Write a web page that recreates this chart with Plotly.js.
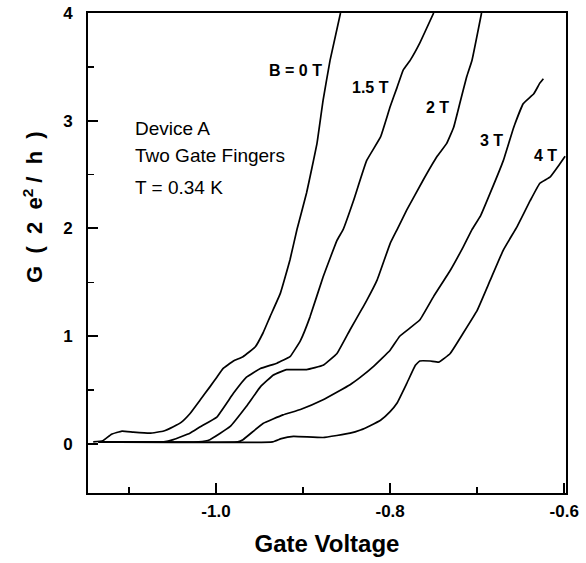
<!DOCTYPE html>
<html>
<head>
<meta charset="utf-8">
<script src="https://cdn.plot.ly/plotly-3.0.1.min.js"></script>
<style>html,body{margin:0;padding:0;background:#fff;}#chart{width:586px;height:563px;}</style>
</head>
<body>
<div id="chart"></div>
<script>
// Gate voltage (V) and conductance G (2e^2/h) for each magnetic field
const x_B0 = [-1.141, -1.13, -1.12, -1.108, -1.095, -1.076, -1.06, -1.049, -1.04, -1.030, -1.018, -1.007, -0.999, -0.992, -0.980, -0.969, -0.955, -0.946, -0.938, -0.926, -0.915, -0.907, -0.896, -0.884, -0.877, -0.869, -0.857];
const y_B0 = [0.02, 0.03, 0.09, 0.12, 0.11, 0.10, 0.12, 0.16, 0.20, 0.28, 0.41, 0.53, 0.62, 0.70, 0.77, 0.81, 0.90, 1.03, 1.18, 1.40, 1.71, 1.99, 2.33, 2.79, 3.19, 3.56, 4.0];

const x_B15 = [-1.135, -1.06, -1.049, -1.03, -1.018, -0.999, -0.980, -0.965, -0.949, -0.930, -0.915, -0.903, -0.892, -0.877, -0.861, -0.854, -0.842, -0.827, -0.811, -0.800, -0.792, -0.785, -0.777, -0.766, -0.750];
const y_B15 = [0.02, 0.02, 0.04, 0.10, 0.16, 0.25, 0.47, 0.62, 0.70, 0.75, 0.81, 0.96, 1.18, 1.55, 1.89, 1.99, 2.26, 2.63, 2.85, 3.13, 3.31, 3.47, 3.56, 3.72, 4.0];

const x_B2 = [-1.135, -1.02, -1.007, -0.984, -0.965, -0.949, -0.934, -0.919, -0.896, -0.877, -0.861, -0.846, -0.834, -0.827, -0.815, -0.800, -0.792, -0.781, -0.762, -0.746, -0.735, -0.727, -0.720, -0.712, -0.706, -0.695];
const y_B2 = [0.02, 0.02, 0.04, 0.16, 0.35, 0.53, 0.64, 0.69, 0.69, 0.73, 0.84, 1.06, 1.23, 1.33, 1.52, 1.86, 1.99, 2.17, 2.45, 2.67, 2.79, 2.94, 3.16, 3.41, 3.56, 4.0];

const x_B3 = [-1.135, -0.975, -0.969, -0.946, -0.923, -0.903, -0.877, -0.846, -0.834, -0.819, -0.800, -0.789, -0.766, -0.750, -0.731, -0.716, -0.706, -0.696, -0.685, -0.670, -0.658, -0.647, -0.635, -0.628, -0.624];
const y_B3 = [0.02, 0.02, 0.04, 0.19, 0.27, 0.32, 0.41, 0.55, 0.62, 0.72, 0.87, 1.0, 1.15, 1.37, 1.61, 1.83, 1.99, 2.12, 2.33, 2.63, 2.94, 3.16, 3.25, 3.35, 3.39];

const x_B4 = [-1.135, -0.935, -0.925, -0.911, -0.877, -0.846, -0.834, -0.823, -0.811, -0.800, -0.792, -0.781, -0.771, -0.766, -0.754, -0.744, -0.731, -0.716, -0.700, -0.685, -0.670, -0.654, -0.639, -0.628, -0.616, -0.605, -0.599];
const y_B4 = [0.02, 0.02, 0.05, 0.07, 0.06, 0.10, 0.13, 0.17, 0.22, 0.30, 0.38, 0.56, 0.73, 0.77, 0.77, 0.76, 0.84, 1.03, 1.24, 1.52, 1.80, 2.02, 2.26, 2.42, 2.48, 2.60, 2.67];

const curveLabels = ['B = 0 T', '1.5 T', '2 T', '3 T', '4 T'];
const labelX = [-0.909, -0.822, -0.746, -0.684, -0.622];
const labelY = [3.47, 3.31, 3.12, 2.82, 2.68];

const infoLines = ['Device A', 'Two Gate Fingers', 'T = 0.34 K'];
const infoY = [2.93, 2.68, 2.38];

const xTickVals = [-1.0, -0.8, -0.6];
const xTickText = ['-1.0', '-0.8', '-0.6'];
const yTickVals = [0, 1, 2, 3, 4];
const yTickText = ['0', '1', '2', '3', '4'];

const xs = [x_B0, x_B15, x_B2, x_B3, x_B4];
const ys = [y_B0, y_B15, y_B2, y_B3, y_B4];

const FONT = 'Liberation Sans, Arial, sans-serif';

const traces = xs.map((x, i) => ({
  x: x, y: ys[i], type: 'scatter', mode: 'lines',
  line: {color: '#000', width: 1.7, shape: 'spline', smoothing: 0.3},
  name: curveLabels[i], showlegend: false, hoverinfo: 'skip'
}));

const annotations = [];
curveLabels.forEach((t, i) => annotations.push({
  x: labelX[i], y: labelY[i], xref: 'x', yref: 'y', text: t, showarrow: false,
  font: {family: FONT, size: 16, color: '#000', weight: 'bold'}, xanchor: 'center', yanchor: 'middle'
}));
infoLines.forEach((t, i) => annotations.push({
  x: -1.095, y: infoY[i], xref: 'x', yref: 'y', text: t, showarrow: false,
  font: {family: FONT, size: 19, color: '#000'}, xanchor: 'left', yanchor: 'middle'
}));
annotations.push({
  x: -0.115, y: 0.596, xref: 'paper', yref: 'paper', textangle: -90,
  text: 'G  (  2  e<sup>2</sup> /  h  )', showarrow: false,
  font: {family: FONT, size: 22, color: '#000', weight: 'bold'}, xanchor: 'center', yanchor: 'middle'
});

const layout = {
  width: 586, height: 563,
  margin: {l: 88, r: 20, t: 13, b: 70},
  paper_bgcolor: '#fff', plot_bgcolor: '#fff',
  font: {family: FONT, color: '#000'},
  xaxis: {
    range: [-1.147, -0.598], tickmode: 'array', tickvals: xTickVals, ticktext: xTickText,
    ticks: 'inside', ticklen: 10, tickwidth: 2, tickcolor: '#000',
    minor: {tickmode: 'linear', dtick: 0.1, tick0: -1.0, ticks: 'inside', ticklen: 6, tickwidth: 1.5, tickcolor: '#000'},
    showline: true, linecolor: '#000', linewidth: 2, mirror: true,
    showgrid: false, zeroline: false,
    tickfont: {family: FONT, size: 17, weight: 'bold'},
    ticklabelstandoff: 2,
    title: {text: 'Gate Voltage', font: {family: FONT, size: 24, weight: 'bold'}, standoff: 15}
  },
  yaxis: {
    range: [-0.455, 4.0], tickmode: 'array', tickvals: yTickVals, ticktext: yTickText,
    ticks: 'inside', ticklen: 10, tickwidth: 2, tickcolor: '#000',
    minor: {tickmode: 'linear', dtick: 0.5, tick0: 0, ticks: 'inside', ticklen: 6, tickwidth: 1.5, tickcolor: '#000'},
    showline: true, linecolor: '#000', linewidth: 2, mirror: true,
    showgrid: false, zeroline: false,
    tickfont: {family: FONT, size: 17, weight: 'bold'},
    ticklabelstandoff: 10
  },
  annotations: annotations
};

Plotly.newPlot('chart', traces, layout, {displayModeBar: false, staticPlot: true});
</script>
</body>
</html>
